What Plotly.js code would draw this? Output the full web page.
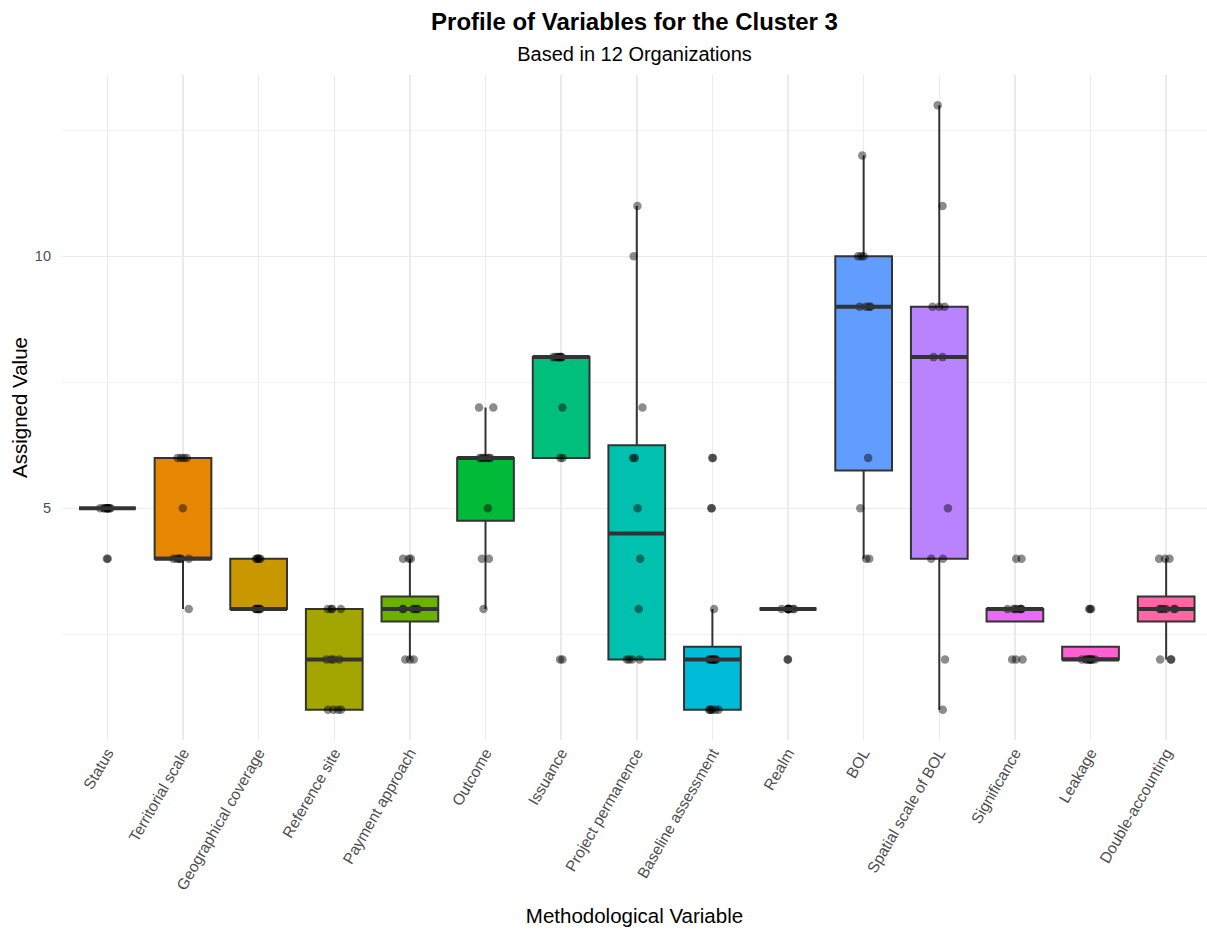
<!DOCTYPE html>
<html>
<head>
<meta charset="utf-8">
<script src="https://cdn.plot.ly/plotly-3.0.1.min.js"></script>
<style>html,body{margin:0;padding:0;background:#fff;}#chart{width:1207px;height:932px;}</style>
</head>
<body>
<div id="chart"></div>
<script>
const categories = ["Status","Territorial scale","Geographical coverage","Reference site","Payment approach","Outcome","Issuance","Project permanence","Baseline assessment","Realm","BOL","Spatial scale of BOL","Significance","Leakage","Double-accounting"];
const fillColors = ["#F8766D","#E58700","#C99800","#A3A500","#6BB100","#00BA38","#00BF7D","#00C0AF","#00BCD8","#00B0F6","#619CFF","#B983FF","#E76BF3","#FD61D1","#FF67A4"];

const status = [4,4,5,5,5,5,5,5,5,5,5,5];
const territorialScale = [3,4,4,4,4,4,4,5,6,6,6,6];
const geographicalCoverage = [3,3,3,3,3,3,3,4,4,4,4,4];
const referenceSite = [1,1,1,1,2,2,2,2,3,3,3,3];
const paymentApproach = [2,2,2,3,3,3,3,3,3,4,4,4];
const outcome = [3,4,4,5,6,6,6,6,6,6,7,7];
const issuance = [2,2,6,6,7,8,8,8,8,8,8,8];
const projectPermanence = [2,2,2,2,3,4,5,6,6,7,10,11];
const baselineAssessment = [1,1,1,1,1,1,2,2,2,2,2,2,2,2,2,3,5,5,6,6];
const realm = [2,2,3,3,3,3,3,3,3,3,3,3];
const bol = [4,4,5,6,9,9,9,9,10,10,10,12];
const spatialScaleOfBol = [1,2,4,4,5,8,8,9,9,9,11,13];
const significance = [2,2,2,3,3,3,3,3,3,3,4,4];
const leakage = [2,2,2,2,2,2,2,2,2,3,3,3];
const doubleAccounting = [2,2,2,3,3,3,3,3,3,4,4,4];

const seriesValues = [status, territorialScale, geographicalCoverage, referenceSite, paymentApproach, outcome, issuance, projectPermanence, baselineAssessment, realm, bol, spatialScaleOfBol, significance, leakage, doubleAccounting];

const FONT = "Liberation Sans, Arial, Helvetica, sans-serif";

function quantile7(sorted, p) {
  const n = sorted.length;
  const h = (n - 1) * p;
  const lo = Math.floor(h);
  const hi = Math.min(lo + 1, n - 1);
  return sorted[lo] + (h - lo) * (sorted[hi] - sorted[lo]);
}
function stats(vals) {
  const s = vals.slice().sort((a, b) => a - b);
  const q1 = quantile7(s, 0.25), med = quantile7(s, 0.5), q3 = quantile7(s, 0.75);
  const iqr = q3 - q1;
  const lo = Math.min(...s.filter(v => v >= q1 - 1.5 * iqr));
  const hi = Math.max(...s.filter(v => v <= q3 + 1.5 * iqr));
  return {q1, med, q3, lo: Math.min(lo, q1), hi: Math.max(hi, q3)};
}

const traces = [];
const shapes = [];
categories.forEach((cat, i) => {
  const st = stats(seriesValues[i]);
  traces.push({
    type: 'box', x: [cat], q1: [st.q1], median: [st.med], q3: [st.q3],
    lowerfence: [st.lo], upperfence: [st.hi],
    boxpoints: false, width: 0.75, whiskerwidth: 0,
    fillcolor: fillColors[i], line: {color: '#333333', width: 2},
    hoverinfo: 'skip', showlegend: false
  });
  shapes.push({
    type: 'line', xref: 'x', yref: 'y', x0: cat, x1: cat, x0shift: -0.375, x1shift: 0.375,
    y0: st.med, y1: st.med, line: {color: '#333333', width: 4}, layer: 'above'
  });
});

const ptsX = [], ptsY = [];
categories.forEach((cat, i) => { seriesValues[i].forEach(v => { ptsX.push(cat); ptsY.push(v); }); });
traces.push({
  type: 'box', x: ptsX, y: ptsY, boxpoints: 'all', jitter: 0.35, pointpos: 0, width: 0.75,
  fillcolor: 'rgba(0,0,0,0)', line: {color: 'rgba(0,0,0,0)', width: 0}, whiskerwidth: 0,
  marker: {color: 'rgba(0,0,0,0.45)', size: 8.5, line: {width: 0}},
  hoverinfo: 'skip', showlegend: false
});

const layout = {
  width: 1207, height: 932,
  margin: {l: 62, r: 0, t: 75, b: 192},
  paper_bgcolor: '#ffffff', plot_bgcolor: '#ffffff',
  font: {family: FONT, color: '#000000'},
  showlegend: false, boxmode: 'overlay',
  title: {
    text: '<b>Profile of Variables for the Cluster 3</b><br><span style="font-size:20px">Based in 12 Organizations</span>',
    font: {family: FONT, size: 24, color: '#000000'},
    x: 0.5, xref: 'paper', xanchor: 'center',
    y: 0.968, yref: 'container', yanchor: 'top'
  },
  xaxis: {
    type: 'category', categoryorder: 'array', categoryarray: categories,
    range: [-0.6, 14.54], automargin: false,
    showgrid: true, gridcolor: '#ebebeb', gridwidth: 1.5,
    zeroline: false, showline: false, ticks: '',
    tickangle: -60, tickfont: {family: FONT, size: 15.5, color: '#4d4d4d'},
    title: {text: 'Methodological Variable', font: {family: FONT, size: 20.5, color: '#000000'}, standoff: 16}
  },
  yaxis: {
    range: [0.4, 13.6], automargin: false,
    tickvals: [5, 10], ticktext: ['5', '10'],
    showgrid: true, gridcolor: '#ebebeb', gridwidth: 1.5,
    minor: {tickvals: [2.5, 7.5, 12.5], showgrid: true, gridcolor: '#f2f2f2', gridwidth: 1, ticks: ''},
    zeroline: false, showline: false, ticks: '',
    ticklabelstandoff: 10,
    tickfont: {family: FONT, size: 14.5, color: '#4d4d4d'},
    title: {text: 'Assigned Value', font: {family: FONT, size: 20.5, color: '#000000'}, standoff: 1}
  },
  shapes: shapes
};

Plotly.newPlot('chart', traces, layout, {displayModeBar: false, staticPlot: true});
</script>
</body>
</html>
